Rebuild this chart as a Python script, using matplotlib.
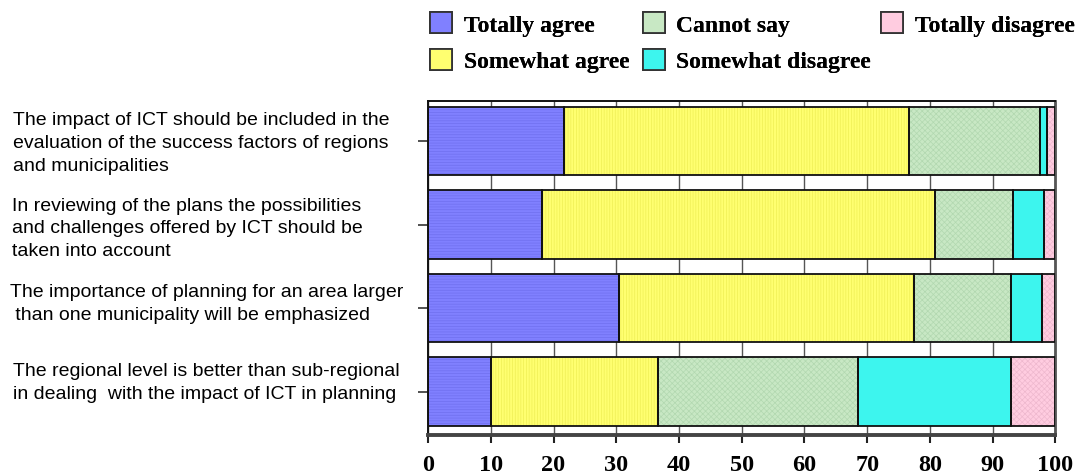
import matplotlib
matplotlib.use("Agg")
import matplotlib.pyplot as plt
import matplotlib.transforms as mtransforms
import numpy as np

# --- datos (porcentaje de respuestas) ---
statements = [
    "The impact of ICT should be included in the\nevaluation of the success factors of regions\nand municipalities",
    "In reviewing of the plans the possibilities\nand challenges offered by ICT should be\ntaken into account",
    "The importance of planning for an area larger\n than one municipality will be emphasized",
    "The regional level is better than sub-regional\nin dealing  with the impact of ICT in planning",
]
totally_agree = [21.6, 18.1, 30.5, 10.0]
somewhat_agree = [55.0, 62.7, 47.0, 26.6]
cannot_say = [21.0, 12.4, 15.4, 32.0]
somewhat_disagree = [1.1, 5.0, 4.9, 24.3]
totally_disagree = [1.3, 1.8, 2.2, 7.1]

series_names = ["Totally agree", "Somewhat agree", "Cannot say",
                "Somewhat disagree", "Totally disagree"]
series_values = [totally_agree, somewhat_agree, cannot_say,
                 somewhat_disagree, totally_disagree]
x_ticks = list(range(0, 101, 10))

# --- estilo ---
face_colors = ["#8080FF", "#FFFF70", "#C8E8C4", "#3DF5EE", "#FFCCE0"]
hatch_colors = ["#7070EE", "#EEEE55", "#B2D8B0", "#3DF5EE", "#EEB8CE"]
hatches = ["------", "||||||", "xxxxxx", "", "xxxxxx"]

plt.rcParams["hatch.linewidth"] = 0.5

fig = plt.figure(figsize=(10.9, 4.77), dpi=100)
ax = fig.add_axes([0.3927, 0.086, 0.5756, 0.7002])

y = np.arange(len(statements))
left = np.zeros(len(statements))
handles = []
for name, vals, fc, hc, h in zip(series_names, series_values,
                                 face_colors, hatch_colors, hatches):
    ax.barh(y, vals, left=left, height=0.82, color=fc, edgecolor=hc,
            hatch=h, linewidth=0, zorder=2)
    ax.barh(y, vals, left=left, height=0.82, fill=False,
            edgecolor="#111111", linewidth=1.3, zorder=3)
    left += np.array(vals)
    handles.append(plt.Rectangle((0, 0), 1, 1, facecolor=fc, edgecolor="#333333",
                                 linewidth=1.3))

ax.set_xlim(0, 100)
ax.set_ylim(3.52, -0.48)
ax.set_xticks(x_ticks)
ax.set_xticklabels([str(t) for t in x_ticks], fontfamily="Liberation Serif",
                   fontweight="bold", fontsize=17.5)
ax.set_yticks(y)
ax.set_yticklabels([])
ax.tick_params(axis="y", direction="out", length=7, width=1.2, color="#333333")
ax.tick_params(axis="x", direction="out", length=6, width=1.5, color="#222222", pad=8)

ax.grid(axis="x", color="#555555", linewidth=1.0, zorder=1)
ax.set_axisbelow(True)

for side in ["left", "top"]:
    ax.spines[side].set_linewidth(1.4)
    ax.spines[side].set_color("#111111")
ax.spines["right"].set_linewidth(2.0)
ax.spines["right"].set_color("#555555")
ax.spines["bottom"].set_linewidth(2.8)
ax.spines["bottom"].set_color("#444444")

# etiquetas de las afirmaciones a la izquierda
trans = mtransforms.blended_transform_factory(fig.transFigure, ax.transData)
label_x = [0.0122, 0.0107, 0.0092, 0.0122]
label_dy = [0.02, 0.04, -0.06, -0.11]
for lx, yy, dy, txt in zip(label_x, y, label_dy, statements):
    ax.text(lx, yy + dy, txt, transform=trans, ha="left", va="center",
            fontfamily="Liberation Sans", fontsize=14, linespacing=1.45)

# leyenda en tres columnas
legend_cols = [[0, 1], [2, 3], [4]]
legend_x = [0.3945, 0.5895, 0.8085]
for idx, lx in zip(legend_cols, legend_x):
    leg = fig.legend([handles[i] for i in idx], [series_names[i] for i in idx],
                     loc="upper left", bbox_to_anchor=(lx, 0.973), ncol=1,
                     frameon=False,
                     prop={"family": "Liberation Serif", "weight": "bold", "size": 17},
                     handlelength=0.93, handleheight=1.0, handletextpad=0.5,
                     labelspacing=0.55, borderpad=0, borderaxespad=0)
    fig.add_artist(leg)

fig.savefig("out.png", dpi=100)
